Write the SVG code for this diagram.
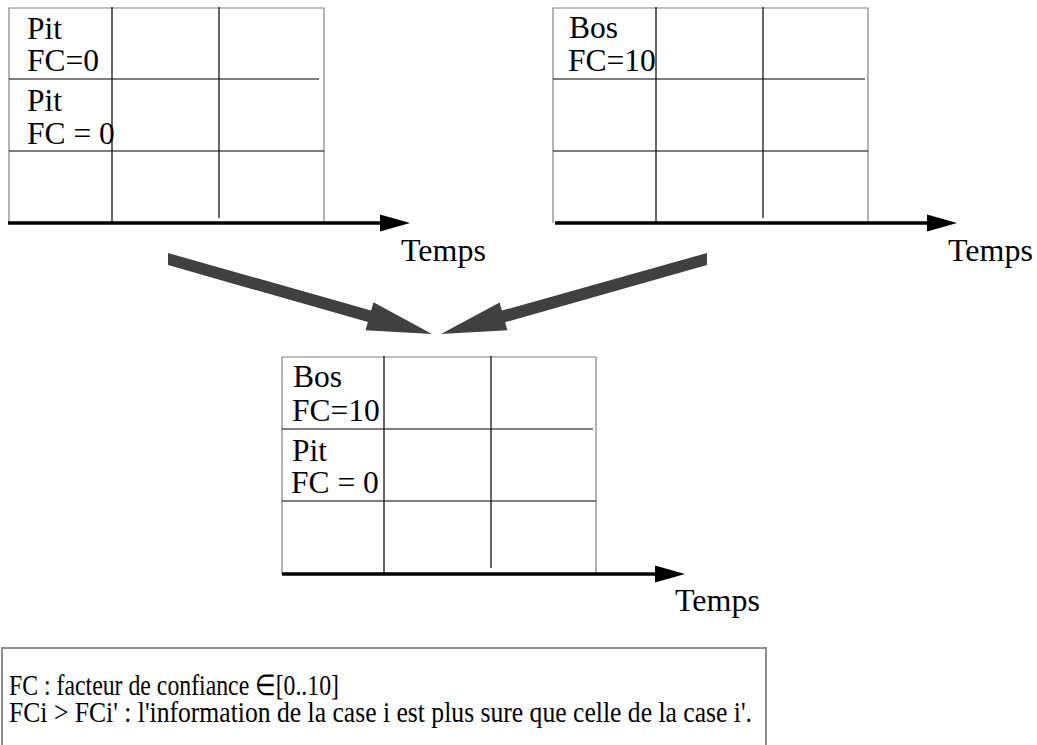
<svg xmlns="http://www.w3.org/2000/svg" width="1037" height="745" viewBox="0 0 1037 745">
<style>
.frame{fill:none;stroke:#808080;stroke-width:1.2}
.ln{stroke:#000;stroke-width:1.2}
.axis{stroke:#000;stroke-width:3.5}
.t{font-family:"Liberation Serif","Times New Roman",serif;font-size:31.5px;fill:#000}
.tm{font-family:"Liberation Serif","Times New Roman",serif;font-size:32px;fill:#000}
.lg{font-family:"Liberation Serif","Times New Roman",serif;font-size:29px;fill:#000}
.big{fill:#404040}
.box{fill:none;stroke:#8c8c8c;stroke-width:2}
</style>
<rect width="1037" height="745" fill="#fff"/>
<g id="grid1">
<polyline class="frame" points="9,223 9,8 324,8 324,223"/>
<line class="ln" x1="112" y1="7" x2="112" y2="223"/>
<line class="ln" x1="219" y1="7" x2="219" y2="218"/>
<line class="ln" x1="9" y1="79" x2="319" y2="79"/>
<line class="ln" x1="9" y1="151" x2="324" y2="151"/>
<line class="axis" x1="8" y1="223" x2="382" y2="223"/>
<polygon points="380,214.5 410,223 380,231.5"/>
<text class="t" x="27" y="39">Pit</text>
<text class="t" x="27" y="71">FC=0</text>
<text class="t" x="27" y="111">Pit</text>
<text class="t" x="27" y="144">FC = 0</text>
<text class="tm" x="401" y="261">Temps</text>
</g>
<g id="grid2">
<polyline class="frame" points="553,223 553,8 868,8 868,223"/>
<line class="ln" x1="656" y1="7" x2="656" y2="223"/>
<line class="ln" x1="763" y1="7" x2="763" y2="218"/>
<line class="ln" x1="553" y1="79" x2="865" y2="79"/>
<line class="ln" x1="553" y1="151" x2="868" y2="151"/>
<line class="axis" x1="555" y1="223" x2="929" y2="223"/>
<polygon points="927,214.5 957,223 927,231.5"/>
<text class="t" x="569" y="38">Bos</text>
<text class="t" x="568" y="71">FC=10</text>
<text class="tm" x="948" y="261">Temps</text>
</g>
<g id="grid3">
<polyline class="frame" points="282,574 282,357 596,357 596,574"/>
<line class="ln" x1="384" y1="356" x2="384" y2="574"/>
<line class="ln" x1="491" y1="356" x2="491" y2="568"/>
<line class="ln" x1="282" y1="429" x2="593" y2="429"/>
<line class="ln" x1="282" y1="501" x2="596" y2="501"/>
<line class="axis" x1="282" y1="574" x2="657" y2="574"/>
<polygon points="655,565.5 685,574 655,582.5"/>
<text class="t" x="293" y="387">Bos</text>
<text class="t" x="292" y="421">FC=10</text>
<text class="t" x="292" y="461">Pit</text>
<text class="t" x="291" y="493">FC = 0</text>
<text class="tm" x="675" y="611">Temps</text>
</g>
<g id="connectors">
<polygon class="big" points="168,253 371.1,310.5 373.5,302.3 432,334 365.5,330.2 367.9,322.1 168,265"/>
<polygon class="big" points="707,253 501.9,310.6 499.6,302.5 441,334 507.4,330.3 505.1,322.2 707,265"/>
</g>
<g id="legend">
<polyline class="box" points="2,746 2,648 766,648 766,746"/>
<text class="lg" x="9" y="695" textLength="330" lengthAdjust="spacingAndGlyphs">FC : facteur de confiance ∈[0..10]</text>
<text class="lg" x="9" y="722" textLength="743" lengthAdjust="spacingAndGlyphs">FCi &gt; FCi' : l'information de la case i est plus sure que celle de la case i'.</text>
</g>
</svg>
